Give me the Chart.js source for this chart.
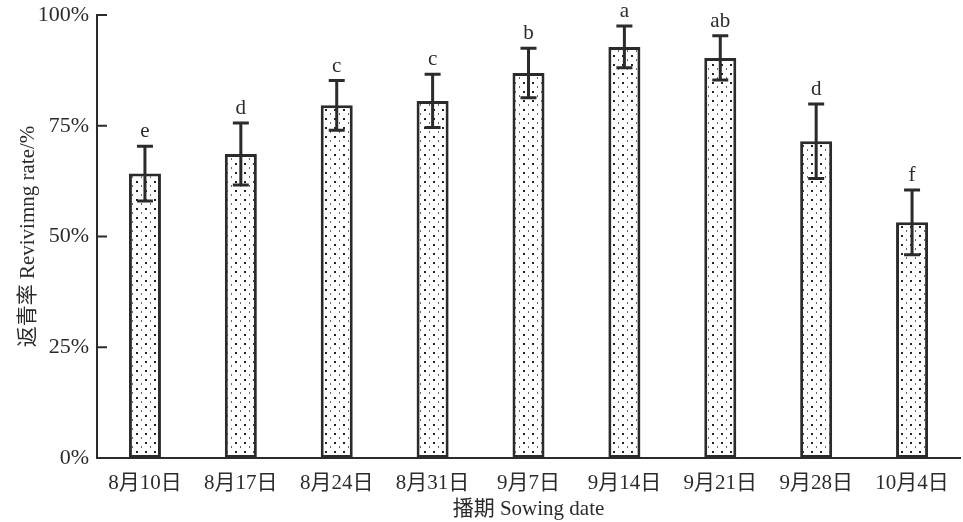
<!DOCTYPE html>
<html>
<head>
<meta charset="utf-8">
<script src="https://cdn.jsdelivr.net/npm/chart.js@4/dist/chart.umd.min.js"></script>
<style>
  html, body { margin: 0; padding: 0; background: #fff; }
  #wrap { width: 963px; height: 522px; }
</style>
</head>
<body>
<div id="wrap"><canvas id="chart"></canvas></div>
<script>
// sowing dates and reviving rate (%)
const sowingDates = ['8月10日', '8月17日', '8月24日', '8月31日', '9月7日', '9月14日', '9月21日', '9月28日', '10月4日'];
const revivingRate = [64.2, 68.6, 79.6, 80.6, 86.9, 92.8, 90.3, 71.5, 53.2];
const rateError = [6.2, 7.0, 5.6, 6.0, 5.6, 4.7, 5.0, 8.4, 7.3];
const sigLetters = ['e', 'd', 'c', 'c', 'b', 'a', 'ab', 'd', 'f'];
const yTicks = [0, 25, 50, 75, 100];

const FONT = '"Liberation Serif", "Noto Sans CJK SC", serif';
const INK = '#2b2b2b';

// dotted fill like the printed figure
function makeDots() {
  const c = document.createElement('canvas');
  c.width = 9; c.height = 9;
  const g = c.getContext('2d');
  g.fillStyle = '#fff';
  g.fillRect(0, 0, 9, 9);
  g.fillStyle = '#222';
  g.fillRect(1, 1, 2, 2);
  g.fillStyle = '#666';
  g.fillRect(6, 5, 1, 2);
  return g.createPattern(c, 'repeat');
}

const extras = {
  id: 'extras',
  afterDatasetsDraw(chart) {
    const ctx = chart.ctx;
    const y = chart.scales.y;
    const meta = chart.getDatasetMeta(0);
    ctx.save();
    ctx.strokeStyle = INK;
    ctx.lineWidth = 3;
    meta.data.forEach((bar, i) => {
      const x = bar.x;
      const top = y.getPixelForValue(revivingRate[i] + rateError[i]);
      const bot = y.getPixelForValue(revivingRate[i] - rateError[i]);
      ctx.beginPath();
      ctx.moveTo(x, top); ctx.lineTo(x, bot);
      ctx.moveTo(x - 8, top); ctx.lineTo(x + 8, top);
      ctx.moveTo(x - 8, bot); ctx.lineTo(x + 8, bot);
      ctx.stroke();
      ctx.fillStyle = INK;
      ctx.font = '21px ' + FONT;
      ctx.textAlign = 'center';
      ctx.textBaseline = 'bottom';
      ctx.fillText(sigLetters[i], x, top - 4);
    });
    // inward tick marks on the y axis
    const left = chart.chartArea.left;
    ctx.lineWidth = 2;
    y.ticks.forEach(t => {
      const py = y.getPixelForValue(t.value);
      ctx.beginPath();
      ctx.moveTo(left, py); ctx.lineTo(left + 10, py);
      ctx.stroke();
    });
    ctx.restore();
  }
};

new Chart(document.getElementById('chart'), {
  type: 'bar',
  data: {
    labels: sowingDates,
    datasets: [{
      data: revivingRate,
      backgroundColor: makeDots(),
      borderColor: INK,
      borderWidth: 3,
      borderSkipped: false,
      barPercentage: 0.334,
      categoryPercentage: 1.0
    }]
  },
  options: {
    responsive: true,
    maintainAspectRatio: false,
    animation: false,
    layout: { padding: { left: 0, right: 3, top: 15, bottom: 0 } },
    plugins: {
      legend: { display: false },
      tooltip: { enabled: false }
    },
    scales: {
      x: {
        grid: { display: false },
        border: { display: true, color: INK, width: 2 },
        ticks: { color: INK, font: { family: FONT, size: 21 }, padding: 5, maxRotation: 0 },
        title: {
          display: true, text: '播期 Sowing date', color: INK,
          font: { family: FONT, size: 21 }, padding: { top: 0, bottom: 0 }
        },
        afterFit(s) { s.height = 64; }
      },
      y: {
        min: 0, max: 100,
        afterBuildTicks(s) { s.ticks = yTicks.map(v => ({ value: v })); },
        grid: { display: false },
        border: { display: true, color: INK, width: 2 },
        ticks: {
          color: INK, font: { family: FONT, size: 22 }, padding: 0,
          callback: v => v + '%'
        },
        title: {
          display: true, text: '返青率 Revivimng rate/%', color: INK,
          font: { family: FONT, size: 21 }, padding: { top: 16, bottom: 0 }
        },
        afterFit(s) { s.width = 97; }
      }
    }
  },
  plugins: [extras]
});
</script>
</body>
</html>
